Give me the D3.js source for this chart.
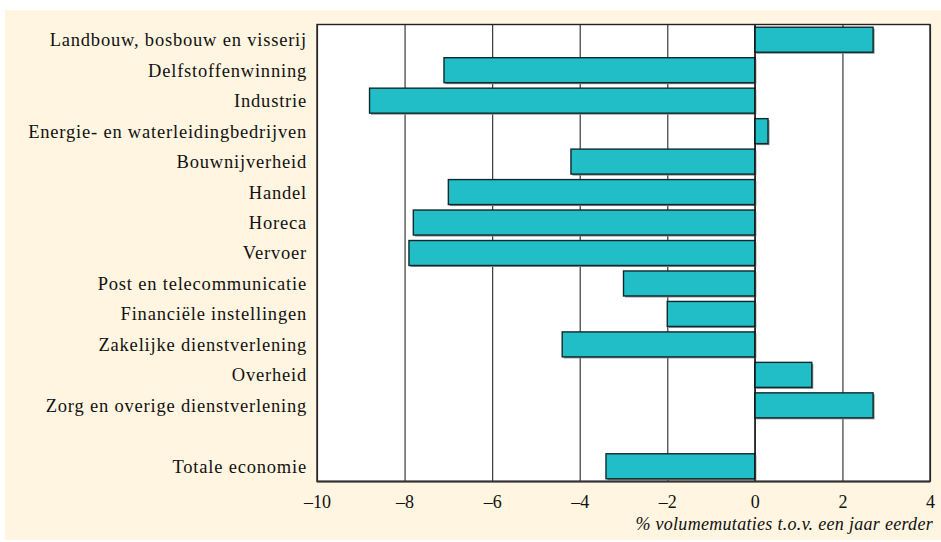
<!DOCTYPE html>
<html><head><meta charset="utf-8">
<script src="https://cdn.jsdelivr.net/npm/d3@7"></script>
<style>
html,body{margin:0;padding:0;background:#fff;}
svg{display:block;}
</style></head>
<body>
<svg id="chart" width="941" height="542"></svg>
<script>
const categories = [
  "Landbouw, bosbouw en visserij",
  "Delfstoffenwinning",
  "Industrie",
  "Energie- en waterleidingbedrijven",
  "Bouwnijverheid",
  "Handel",
  "Horeca",
  "Vervoer",
  "Post en telecommunicatie",
  "Financiële instellingen",
  "Zakelijke dienstverlening",
  "Overheid",
  "Zorg en overige dienstverlening",
  "",
  "Totale economie"
];
const values = [2.7, -7.1, -8.8, 0.3, -4.2, -7.0, -7.8, -7.9, -3.0, -2.0, -4.4, 1.3, 2.7, null, -3.4];
const xTicks = [-10, -8, -6, -4, -2, 0, 2, 4];
const xTitle = "% volumemutaties t.o.v. een jaar eerder";

const svg = d3.select("#chart");
const W = 941, H = 542;
const m = {left: 317, right: 11, top: 24.5, bottom: 60.5};
const FONT = "'Liberation Serif', 'Times New Roman', serif";

// cream panel
svg.append("rect").attr("x", 5).attr("y", 10).attr("width", W - 5).attr("height", 530).attr("fill", "#fff5e0");

const x = d3.scaleLinear().domain([-10, 4]).range([m.left, W - m.right]);
const keys = categories.map((c, i) => i);
const y = d3.scaleBand().domain(keys).range([m.top, H - m.bottom]).paddingInner(0.18).paddingOuter(0.09);

// plot background
svg.append("rect").attr("x", x(-10)).attr("y", m.top).attr("width", x(4) - x(-10)).attr("height", H - m.bottom - m.top).attr("fill", "#fff");

// gridlines via axis
const grid = svg.append("g").attr("transform", `translate(0,${H - m.bottom})`)
  .call(d3.axisBottom(x).tickValues(xTicks).tickSize(-(H - m.bottom - m.top)).tickFormat(""));
grid.select(".domain").remove();
grid.selectAll("line").attr("stroke", "#3a3a3a").attr("stroke-width", 1.2);

// bars
const data = categories.map((c, i) => ({c, i, v: values[i]})).filter(d => d.v !== null);
svg.append("g").selectAll("rect").data(data).join("rect")
  .attr("x", d => Math.min(x(0), x(d.v)) + 1.5)
  .attr("y", d => y(d.i) + 1.5)
  .attr("width", d => Math.abs(x(d.v) - x(0)))
  .attr("height", y.bandwidth())
  .attr("fill", "#8a8a8a");
svg.append("g").selectAll("rect").data(data).join("rect")
  .attr("x", d => Math.min(x(0), x(d.v)))
  .attr("y", d => y(d.i))
  .attr("width", d => Math.abs(x(d.v) - x(0)))
  .attr("height", y.bandwidth())
  .attr("fill", "#21bec8")
  .attr("stroke", "#102a2c")
  .attr("stroke-width", 1.4);

// zero line
svg.append("line").attr("x1", x(0)).attr("x2", x(0)).attr("y1", m.top).attr("y2", H - m.bottom)
  .attr("stroke", "#111").attr("stroke-width", 1.2);

// frame
svg.append("rect").attr("x", x(-10)).attr("y", m.top).attr("width", x(4) - x(-10)).attr("height", H - m.bottom - m.top)
  .attr("fill", "none").attr("stroke", "#222").attr("stroke-width", 1.4);
svg.append("line").attr("x1", x(-10)).attr("x2", x(4)).attr("y1", H - m.bottom).attr("y2", H - m.bottom)
  .attr("stroke", "#333").attr("stroke-width", 2);

// y labels
const yAxis = svg.append("g").attr("transform", `translate(${x(-10)},0)`)
  .call(d3.axisLeft(y).tickSize(0).tickPadding(10).tickFormat(i => categories[i]));
yAxis.select(".domain").remove();
yAxis.selectAll("text").attr("font-family", FONT).attr("font-size", 18.5).attr("fill", "#111")
  .attr("letter-spacing", "0.8px").attr("dy", "0.35em");

// x tick labels
const xAxis = svg.append("g").attr("transform", `translate(0,${H - m.bottom})`)
  .call(d3.axisBottom(x).tickValues(xTicks).tickSize(0).tickPadding(14).tickFormat(d => d < 0 ? "\u2013" + Math.abs(d) : String(d)));
xAxis.select(".domain").remove();
xAxis.selectAll("text").attr("font-family", FONT).attr("font-size", 18).attr("fill", "#111");

// x title
svg.append("text").attr("x", 933).attr("y", 530).attr("text-anchor", "end")
  .attr("font-family", FONT).attr("font-style", "italic").attr("font-size", 18).attr("fill", "#111")
  .attr("letter-spacing", "0.3px")
  .text(xTitle);
</script>
</body></html>
